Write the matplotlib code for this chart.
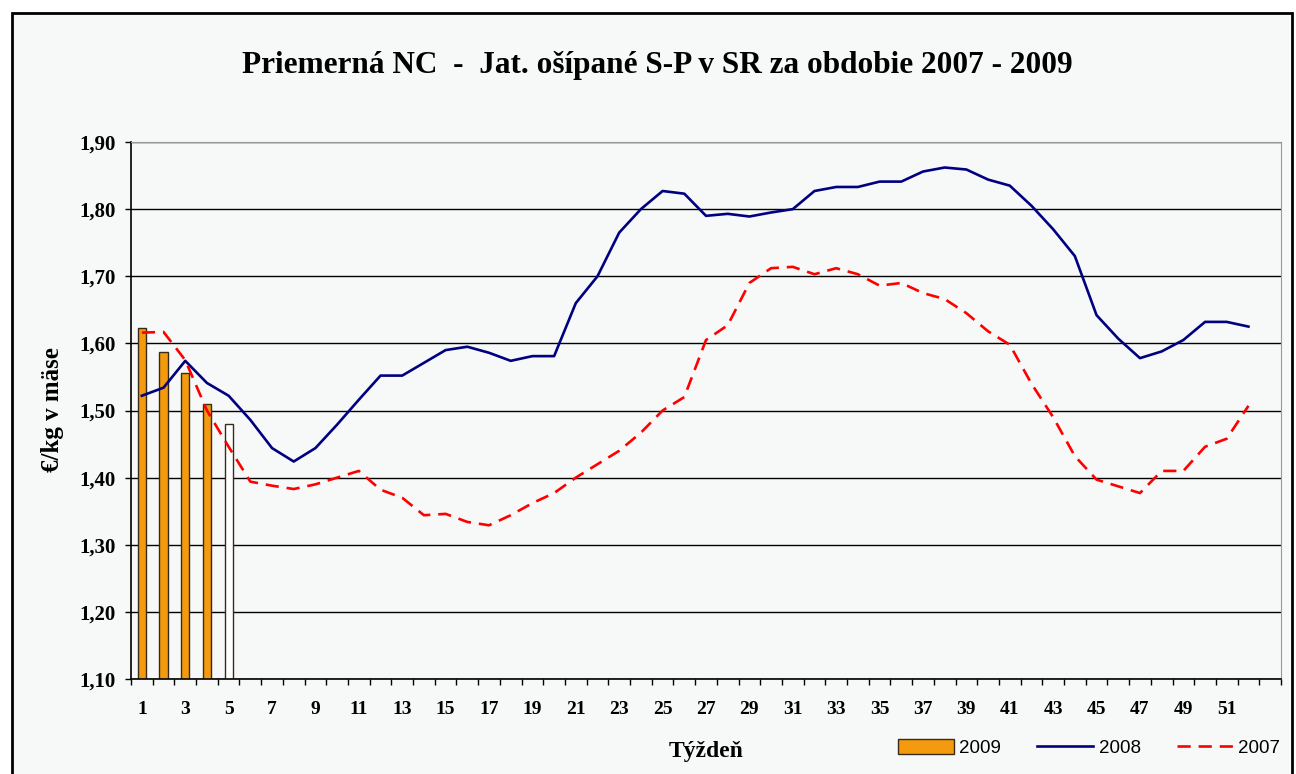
import numpy as np
import matplotlib
matplotlib.use("Agg")
import matplotlib.pyplot as plt
from matplotlib.patches import Rectangle, Patch
from matplotlib.lines import Line2D
from matplotlib.ticker import FixedLocator, FuncFormatter

# data (EUR/kg, by week)
weeks_2009 = [1, 2, 3, 4, 5]
price_2009 = [1.623, 1.587, 1.556, 1.510, 1.480]
bar_colors_2009 = ['#F39A0E', '#F39A0E', '#F39A0E', '#F39A0E', '#FFFFFF']

weeks = list(range(1, 53))
price_2008 = [1.522, 1.534, 1.574, 1.541, 1.522, 1.486, 1.444, 1.424, 1.444, 1.479,
              1.516, 1.552, 1.552, 1.571, 1.590, 1.595, 1.586, 1.574, 1.581, 1.581,
              1.660, 1.700, 1.765, 1.800, 1.827, 1.823, 1.790, 1.793, 1.789, 1.795,
              1.800, 1.827, 1.833, 1.833, 1.841, 1.841, 1.856, 1.862, 1.859, 1.844,
              1.835, 1.805, 1.770, 1.730, 1.642, 1.607, 1.578, 1.588, 1.605, 1.632,
              1.632, 1.625]
price_2007 = [1.616, 1.617, 1.575, 1.500, 1.446, 1.394, 1.388, 1.383, 1.390, 1.400,
              1.410, 1.382, 1.370, 1.344, 1.346, 1.334, 1.329, 1.344, 1.362, 1.377,
              1.400, 1.420, 1.440, 1.467, 1.500, 1.520, 1.605, 1.627, 1.690, 1.712,
              1.714, 1.703, 1.712, 1.703, 1.686, 1.690, 1.675, 1.666, 1.645, 1.618,
              1.598, 1.540, 1.490, 1.432, 1.397, 1.387, 1.377, 1.410, 1.410, 1.446,
              1.458, 1.507]

title = "Priemerná NC  -  Jat. ošípané S-P v SR za obdobie 2007 - 2009"
serif = ['Liberation Serif', 'DejaVu Serif']

fig = plt.figure(figsize=(12.96, 7.74), dpi=100, facecolor='white')
bg = '#F6F9F7'
# chart area frame
fig.patches.append(Rectangle((12/1296, -0.05), 1280/1296, 1 - 13/774 + 0.05,
                             transform=fig.transFigure, facecolor=bg,
                             edgecolor='black', linewidth=2, zorder=-5))

ax = fig.add_axes([131/1296, 1 - 679/774, 1150/1296, 537/774])
ax.set_facecolor(bg)

ax.bar(weeks_2009, price_2009, width=0.38, bottom=0, color=bar_colors_2009,
       edgecolor='#3a2a1a', linewidth=1.0, zorder=2)
ax.plot(weeks, price_2008, color='#000080', linewidth=1.9, zorder=3)
ax.plot(weeks, price_2007, color='#FF0000', linewidth=1.9,
        dashes=(5, 3), zorder=3)

ax.set_ylim(1.10, 1.90)
ax.set_xlim(0.5, 53.5)
ax.set_yticks(np.arange(1.10, 1.91, 0.10))
ax.yaxis.set_major_formatter(FuncFormatter(lambda v, p: f"{v:.2f}".replace('.', ',')))
ax.grid(axis='y', color='black', linewidth=1.0, zorder=1)
ax.set_axisbelow(True)

ax.xaxis.set_major_locator(FixedLocator(range(1, 52, 2)))
ax.xaxis.set_minor_locator(FixedLocator(np.arange(0.5, 54, 1.0)))
ax.tick_params(axis='x', which='major', length=0, pad=16)
ax.tick_params(axis='x', which='minor', length=4, width=1, direction='out')
ax.tick_params(axis='y', length=4, width=1, direction='out', pad=7)
for lab in ax.get_xticklabels():
    lab.set_family(serif)
    lab.set_fontweight('bold')
    lab.set_fontsize(14)
for lab in ax.get_yticklabels():
    lab.set_family(serif)
    lab.set_fontweight('bold')
    lab.set_fontsize(15)

ax.spines['top'].set_color('#999999')
ax.spines['right'].set_color('#999999')
ax.spines['left'].set_linewidth(1.2)
ax.spines['bottom'].set_linewidth(1.2)

fig.text(657/1296, 1 - 65/774, title, ha='center', va='center',
         family=serif, fontweight='bold', fontsize=22.5)
fig.text(53/1296, 1 - 410/774, "€/kg v mäse", rotation=90, ha='center', va='center',
         family=serif, fontweight='bold', fontsize=18)
fig.text(706/1296, 1 - 751/774, "Týždeň", ha='center', va='center',
         family=serif, fontweight='bold', fontsize=17)

handles = [Patch(facecolor='#F39A0E', edgecolor='#3a2a1a', linewidth=1.0),
           Line2D([], [], color='#000080', linewidth=1.9),
           Line2D([], [], color='#FF0000', linewidth=1.9, dashes=(5, 3))]
leg = fig.legend(handles, ['2009', '2008', '2007'], ncol=3, frameon=False,
                 loc='center', bbox_to_anchor=(1089/1296, 1 - 748/774),
                 handlelength=3.0, handleheight=0.8, handletextpad=0.3,
                 columnspacing=1.9, prop={'family': 'Liberation Sans', 'size': 13.5})

fig.savefig('out.png', dpi=100, facecolor='white')
